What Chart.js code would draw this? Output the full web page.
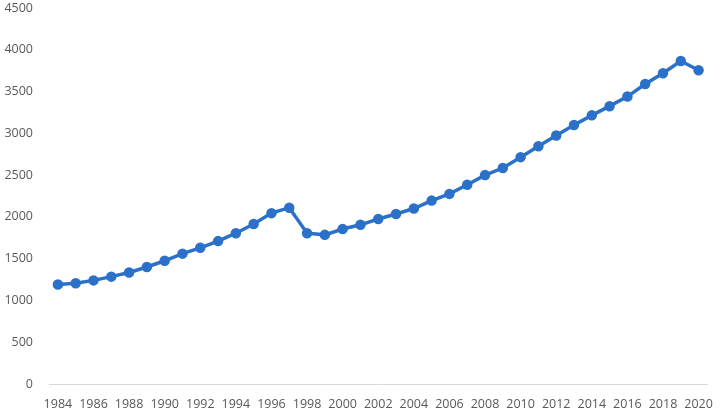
<!DOCTYPE html>
<html>
<head>
<meta charset="utf-8">
<script src="https://cdn.jsdelivr.net/npm/chart.js@4/dist/chart.umd.min.js"></script>
<style>
  html, body { margin: 0; padding: 0; background: #fff; }
  #wrap { width: 726px; height: 413px; position: relative; }
</style>
</head>
<body>
<div id="wrap"><canvas id="chart"></canvas></div>
<script>
// years along the bottom
const years = [];
for (let y = 1984; y <= 2020; y++) years.push(String(y));

// values
const values = [
  1190, 1205, 1240, 1285, 1335, 1400, 1475, 1560, 1630, 1710,
  1805, 1915, 2045, 2110, 1805, 1785, 1855, 1905, 1975, 2035,
  2100, 2195, 2275, 2385, 2500, 2585, 2715, 2845, 2975, 3100,
  3215, 3325, 3440, 3590, 3720, 3865, 3755
];

const yTicks = [0, 500, 1000, 1500, 2000, 2500, 3000, 3500, 4000, 4500];

const blue = '#2b70c9';
const grey = '#595959';

new Chart(document.getElementById('chart'), {
  type: 'line',
  data: {
    labels: years,
    datasets: [{
      data: values,
      borderColor: blue,
      backgroundColor: blue,
      borderWidth: 3.5,
      pointRadius: 3.5,
      pointBackgroundColor: blue,
      pointBorderColor: blue,
      tension: 0
    }]
  },
  options: {
    responsive: true,
    maintainAspectRatio: false,
    animation: false,
    layout: { padding: { top: 8, right: 9, bottom: 0, left: 0 } },
    plugins: { legend: { display: false }, tooltip: { enabled: false } },
    scales: {
      x: {
        offset: true,
        grid: { display: false, drawTicks: false },
        border: { display: true, color: '#d9d9d9', width: 1 },
        afterFit: s => { s.height = 29; },
        ticks: {
          autoSkip: false,
          maxRotation: 0,
          color: grey,
          font: { family: 'Open Sans', size: 12.5 },
          padding: 13,
          callback: function (v, i) { return i % 2 === 0 ? this.getLabelForValue(v) : ''; }
        }
      },
      y: {
        min: 0,
        max: 4500,
        afterBuildTicks: s => { s.ticks = yTicks.map(v => ({ value: v })); },
        afterFit: s => { s.width = 49; s.paddingTop = 0; s.paddingBottom = 0; },
        grid: { display: false, drawTicks: false },
        border: { display: false },
        ticks: {
          color: grey,
          font: { family: 'Open Sans', size: 12.5 },
          padding: 16,
          callback: v => String(v)
        }
      }
    }
  }
});
</script>
</body>
</html>
